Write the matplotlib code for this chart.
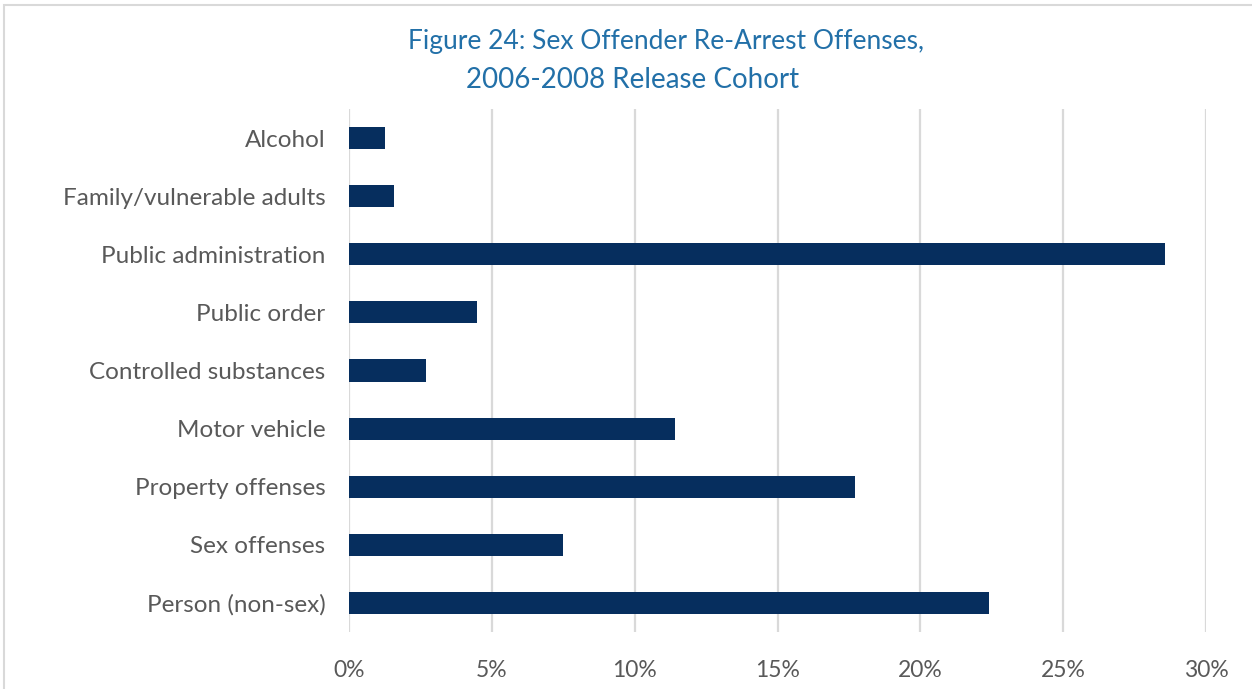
import matplotlib
matplotlib.use("Agg")
import matplotlib.pyplot as plt
import matplotlib.ticker as mticker
from matplotlib.patches import Rectangle

# ── Data ──
categories = [
    "Alcohol",
    "Family/vulnerable adults",
    "Public administration",
    "Public order",
    "Controlled substances",
    "Motor vehicle",
    "Property offenses",
    "Sex offenses",
    "Person (non-sex)",
]
shares = [0.0126, 0.0158, 0.2856, 0.0448, 0.0270, 0.1140, 0.1770, 0.0750, 0.2240]
x_ticks = [0.0, 0.05, 0.10, 0.15, 0.20, 0.25, 0.30]

bar_color = "#062e5e"
label_color = "#595959"
title_color = "#2270a8"
grid_color = "#d9d9d9"

plt.rcParams["font.family"] = ["Lato", "DejaVu Sans"]

fig = plt.figure(figsize=(12.52, 6.89), dpi=100)
ax = fig.add_axes([349 / 1252, 1 - 632 / 689, (1206 - 349) / 1252, (632 - 109) / 689])

y_pos = list(range(len(categories)))
ax.barh(y_pos, shares, height=0.38, color=bar_color, zorder=3)

ax.set_ylim(len(categories) - 0.5, -0.5)
ax.set_xlim(0, 0.30)
ax.set_yticks(y_pos)
ax.set_yticklabels(categories, fontsize=17.5, color=label_color)
ax.set_xticks(x_ticks)
ax.xaxis.set_major_formatter(mticker.PercentFormatter(1.0, decimals=0))
ax.tick_params(axis="x", labelsize=16.5, labelcolor=label_color, length=0, pad=20)
ax.tick_params(axis="y", length=0, pad=17)
ax.grid(axis="x", color=grid_color, linewidth=1.6, zorder=0)
for spine in ax.spines.values():
    spine.set_visible(False)

# ── Title ──
fig.text(0.532, 1 - 42 / 689, "Figure 24: Sex Offender Re-Arrest Offenses,",
         ha="center", va="center", fontsize=19, color=title_color)
fig.text(0.505, 1 - 80 / 689, "2006-2008 Release Cohort",
         ha="center", va="center", fontsize=20, color=title_color)

# ── Outer frame ──
fig.patches.append(Rectangle((4 / 1252, -0.01), 1.2, 1 - 5 / 689 + 0.01,
                             transform=fig.transFigure, fill=False,
                             edgecolor="#d9d9d9", linewidth=1.5))

fig.savefig("out.png", dpi=100, facecolor="white")
